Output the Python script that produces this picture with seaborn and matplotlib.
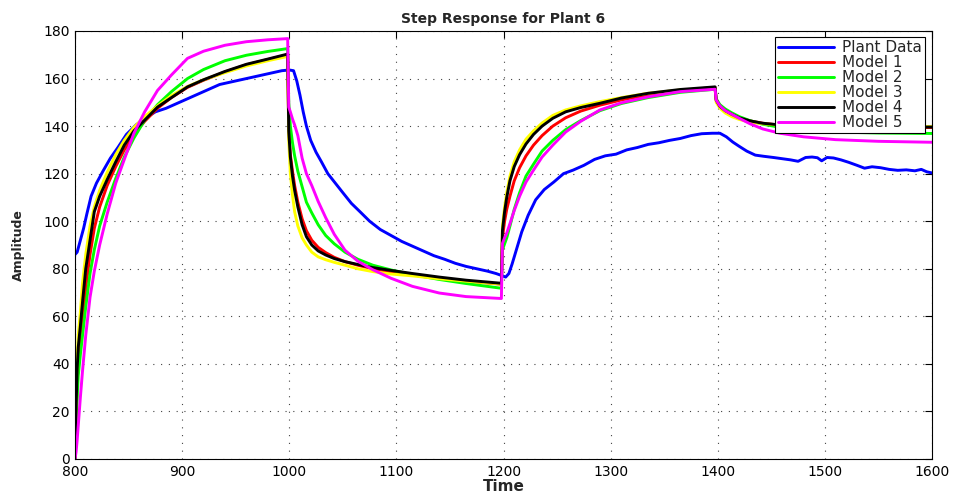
import numpy as np
import pandas as pd
import matplotlib
matplotlib.use("Agg")
import matplotlib.pyplot as plt
import seaborn as sns

# ---------------- data ----------------
plant_time = [800, 802, 805, 808, 811, 815, 820, 826, 833, 840, 848, 857, 866, 875, 885, 895,
              905, 915, 925, 935, 945, 955, 965, 975, 985, 993, 1000, 1004, 1007, 1010, 1013,
              1016, 1020, 1025, 1030, 1036, 1043, 1050, 1058, 1066, 1075, 1085, 1095, 1105,
              1115, 1125, 1135, 1145, 1155, 1165, 1175, 1185, 1193, 1198, 1202, 1205, 1208,
              1212, 1217, 1223, 1230, 1238, 1247, 1256, 1265, 1275, 1285, 1295, 1305, 1315,
              1325, 1335, 1345, 1355, 1365, 1375, 1385, 1395, 1402, 1408, 1414, 1420, 1427,
              1435, 1443, 1452, 1460, 1468, 1475, 1482, 1488, 1493, 1497, 1502, 1508, 1515,
              1522, 1530, 1537, 1544, 1552, 1560, 1568, 1576, 1584, 1590, 1595, 1600]
plant_data = [86, 87, 92, 97, 103, 110.5, 116, 121, 126.5, 131, 136.5, 140.5, 143.5, 146, 147.5,
              149.5, 151.5, 153.5, 155.5, 157.5, 158.5, 159.5, 160.5, 161.5, 162.5, 163.3, 163.6,
              163.3, 159, 153, 146, 140, 134, 129, 125, 120, 116, 112, 107.5, 104, 100, 96.5, 94,
              91.5, 89.5, 87.5, 85.5, 84, 82.3, 81, 80, 79, 78, 77.2, 76.5, 78, 82, 88, 95.5,
              102.5, 109, 113.3, 116.5, 120, 121.5, 123.5, 126, 127.5, 128.2, 130, 131, 132.3,
              133, 134, 134.8, 136, 136.8, 137, 137, 135.5, 133.3, 131.5, 129.5, 127.8, 127.3,
              126.8, 126.3, 125.8, 125.2, 126.8, 127, 126.7, 125.4, 126.8, 126.6, 125.8, 124.8,
              123.5, 122.3, 122.9, 122.5, 121.8, 121.4, 121.6, 121.2, 121.8, 120.8, 120.3]

model_time = [800, 801, 802, 803, 805, 807, 810, 814, 818, 823, 830, 838, 846, 855, 865, 877,
              890, 905, 920, 940, 960, 980, 998.5,
              999.5, 1001, 1003, 1005, 1008, 1012, 1016, 1021, 1027, 1034, 1042, 1052, 1064,
              1078, 1095, 1115, 1140, 1165, 1198,
              1199, 1201, 1203, 1206, 1210, 1215, 1221, 1228, 1236, 1246, 1258, 1272, 1290,
              1310, 1335, 1365, 1397.5,
              1398.5, 1402, 1407, 1413, 1420, 1430, 1442, 1458, 1480, 1510, 1550, 1600]

model_1 = [0, 18, 32, 42, 50, 58, 72, 86, 97, 106, 115, 123, 130, 136.5, 142, 147.5,
           152, 156.3, 159.3, 162.8, 165.8, 168, 170,
           138, 128, 121, 115, 108, 101, 96, 92, 89, 86.8, 84.8, 83, 81.5,
           80, 78.7, 77.5, 76, 74.8, 73.5,
           93, 100, 105, 110.5, 117, 122.5, 127.5, 132, 136, 140, 143.5, 146.3, 148.8,
           151, 153.2, 155, 156.3,
           151, 148.5, 146.6, 145.1, 143.6, 142.2, 141.2, 140.4, 139.9, 139.6, 139.5, 139.4]
model_2 = [0, 15, 26, 35, 44, 52, 64, 78, 88, 98, 108, 118, 127, 135, 142.5, 149,
           154.5, 160, 163.8, 167.5, 169.8, 171.4, 172.6,
           150, 140, 133, 127.5, 121, 114.5, 108, 103.5, 98.5, 94, 90.5, 87, 84,
           81.5, 79.5, 77.5, 75.5, 73.8, 71.8,
           88, 90.5, 93, 98, 105, 112, 119, 124, 129.5, 134, 138.5, 142.3, 146.5,
           149.5, 152, 154.2, 155.5,
           151.5, 149, 147.2, 145.6, 144, 142.3, 140.8, 139.5, 138.3, 137.5, 137.1, 136.9]
model_3 = [0, 28, 42, 52, 62, 74, 86, 98, 106, 113, 120.5, 128, 134, 139.5, 144, 148.5,
           152.8, 156.7, 159.5, 162.5, 165.3, 167.5, 169.3,
           134, 120, 111, 104, 98, 93, 90, 87, 85, 83.8, 82.7, 81.5, 80,
           78.8, 77.8, 77, 75.8, 74.8, 73.6,
           98, 106, 112, 119, 125, 130, 134.5, 138, 141.3, 144.5, 146.8, 148.5, 150.3,
           152, 153.8, 155.2, 156,
           150, 147.5, 145.5, 144, 142.8, 141.7, 141, 140.4, 140.1, 139.9, 139.8, 139.8]
model_4 = [0, 22, 38, 47, 56, 66, 80, 92, 104, 110.5, 117.5, 125, 132, 138, 142.5, 148,
           152, 156.5, 159.5, 163, 166, 168.2, 170.3,
           138, 127, 119, 113, 106, 98.5, 93.5, 90, 87.5, 85.8, 84.3, 83, 81.8,
           80.5, 79.3, 78, 76.5, 75.2, 73.9,
           96, 104, 110, 117, 123, 128, 132.5, 136.5, 140, 143.3, 146, 147.8, 149.6,
           151.8, 153.8, 155.4, 156.5,
           151, 148.3, 146.5, 145, 143.5, 142.2, 141.2, 140.5, 140, 139.8, 139.6, 139.6]
model_5 = [0, 3, 8, 14, 26, 37, 52, 68, 79, 90, 103, 116, 126, 137, 146, 155,
           161.5, 168.5, 171.5, 174, 175.5, 176.3, 176.8,
           148, 146, 143, 140.5, 136, 126.5, 120, 115, 108.3, 101.5, 94.5, 87.8, 83.2,
           79.6, 76, 72.6, 69.8, 68.3, 67.5,
           90.7, 93, 95, 99, 104.5, 110.5, 116.5, 121.5, 127, 132, 137.5, 142, 146.8,
           149.8, 152.3, 154.5, 155.5,
           151, 148.5, 146.5, 145, 143.3, 141, 138.8, 137, 135.5, 134.3, 133.6, 133.2]

series_names = ["Plant Data", "Model 1", "Model 2", "Model 3", "Model 4", "Model 5"]
series_colors = ["#0000ff", "#ff0000", "#00ff00", "#ffff00", "#000000", "#ff00ff"]
x_ticks = [800, 900, 1000, 1100, 1200, 1300, 1400, 1500, 1600]
y_ticks = [0, 20, 40, 60, 80, 100, 120, 140, 160, 180]

# ---------------- build long table ----------------
frames = [pd.DataFrame({"Time": plant_time, "Amplitude": plant_data, "series": "Plant Data"})]
for name, vals in zip(series_names[1:], [model_1, model_2, model_3, model_4, model_5]):
    frames.append(pd.DataFrame({"Time": model_time, "Amplitude": vals, "series": name}))
df = pd.concat(frames, ignore_index=True)

# ---------------- plot ----------------
sns.set_style("white")
plt.rcParams["font.family"] = ["DejaVu Sans"]

fig = plt.figure(figsize=(9.57, 4.92), dpi=100)
ax = fig.add_axes([0.0784, 0.0671, 0.8955, 0.8699])

sns.lineplot(data=df, x="Time", y="Amplitude", hue="series", hue_order=series_names,
             palette=dict(zip(series_names, series_colors)), estimator=None, sort=False,
             linewidth=2.1, ax=ax)

ax.set_xlim(800, 1600)
ax.set_ylim(0, 180)
ax.set_xticks(x_ticks)
ax.set_yticks(y_ticks)
ax.tick_params(direction="in", top=True, right=True, length=5, width=0.8,
               labelsize=10, colors="black")
ax.tick_params(axis="x", pad=4)
ax.tick_params(axis="y", pad=4)
ax.grid(True, linestyle=(0, (1, 6)), color="#444444", linewidth=0.8)
for s in ax.spines.values():
    s.set_visible(True)
    s.set_color("black")
    s.set_linewidth(0.8)

ax.set_title("Step Response for Plant 6", fontsize=10, fontweight="bold", pad=6)
ax.set_xlabel("Time", fontsize=11, fontweight="bold", labelpad=0)
ax.set_ylabel("Amplitude", fontsize=9, fontweight="bold", labelpad=13)

leg = ax.legend(loc="upper right", bbox_to_anchor=(0.9918, 0.986), borderaxespad=0,
                fontsize=11, handlelength=3.7, handletextpad=0.5, labelspacing=0.0,
                borderpad=0.2, frameon=True, fancybox=False, framealpha=1)
leg.get_frame().set_edgecolor("black")
leg.get_frame().set_linewidth(0.8)
for line in leg.get_lines():
    line.set_linewidth(2.1)

fig.savefig("out.png", dpi=100)
